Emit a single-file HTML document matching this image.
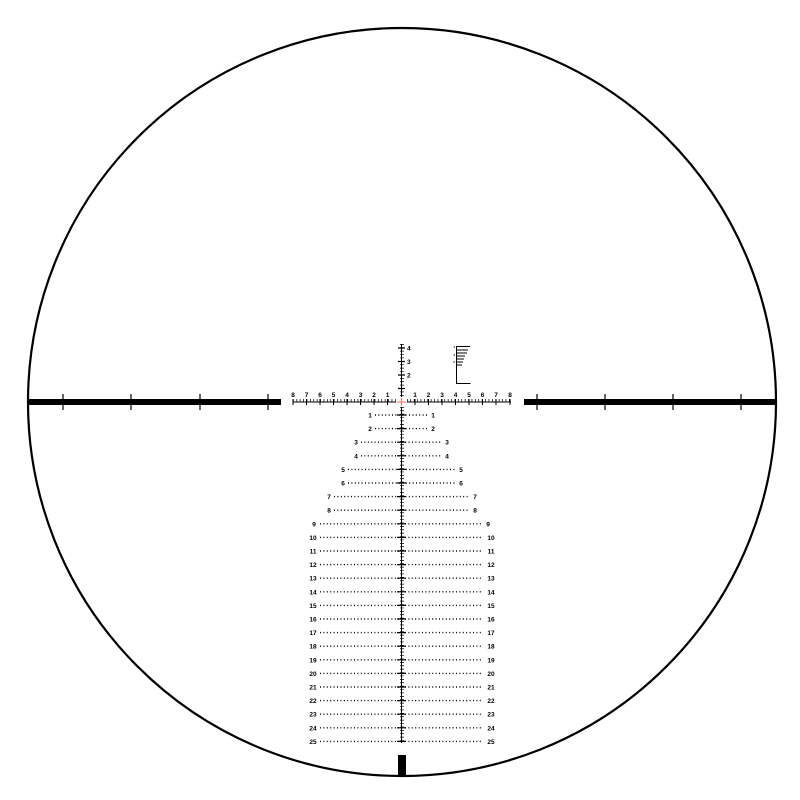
<!DOCTYPE html>
<html><head><style>html,body{margin:0;padding:0;background:#fff}svg{display:block}</style></head>
<body>
<svg width="800" height="800" viewBox="0 0 800 800" xmlns="http://www.w3.org/2000/svg" font-family="Liberation Sans, sans-serif" font-size="6.5" font-weight="bold">
<circle cx="402" cy="402" r="374" fill="none" stroke="#000" stroke-width="2.2"/>
<rect x="28" y="399" width="253" height="6" fill="#000"/>
<rect x="524" y="399" width="252" height="6" fill="#000"/>
<g stroke="#000" stroke-width="1.2">
<line x1="63" y1="394" x2="63" y2="410"/><line x1="131" y1="394" x2="131" y2="410"/><line x1="200" y1="394" x2="200" y2="410"/><line x1="268" y1="394" x2="268" y2="410"/>
<line x1="537" y1="394" x2="537" y2="410"/><line x1="605" y1="394" x2="605" y2="410"/><line x1="673" y1="394" x2="673" y2="410"/><line x1="741" y1="394" x2="741" y2="410"/>
</g>
<rect x="398" y="755" width="8" height="22" fill="#000"/>
<g stroke="#000">
<line x1="293" y1="402" x2="396" y2="402" stroke-width="1"/>
<line x1="407" y1="402" x2="511" y2="402" stroke-width="1"/>
<line x1="293" y1="400.5" x2="396" y2="400.5" stroke-width="3" stroke-dasharray="0.7 2.7"/>
<line x1="407" y1="400.5" x2="511" y2="400.5" stroke-width="3" stroke-dasharray="0.7 2.7"/>
</g>
<g stroke="#000" stroke-width="1" fill="none">
<path d="M293 399v6M306.5 399v6M320 399v6M333.5 399v6M347 399v6M360.5 399v6M374 399v6M387.5 399v6M415 399v6M428.5 399v6M442 399v6M455.5 399v6M469 399v6M482.5 399v6M496 399v6M510 399v6"/>
</g>
<g text-anchor="middle">
<text x="293" y="397">8</text><text x="306.5" y="397">7</text><text x="320" y="397">6</text><text x="333.5" y="397">5</text><text x="347" y="397">4</text><text x="360.5" y="397">3</text><text x="374" y="397">2</text><text x="387.5" y="397">1</text>
<text x="415" y="397">1</text><text x="428.5" y="397">2</text><text x="442" y="397">3</text><text x="455.5" y="397">4</text><text x="469" y="397">5</text><text x="482.5" y="397">6</text><text x="496" y="397">7</text><text x="510" y="397">8</text>
</g>
<g stroke="#f08080" stroke-width="1.2"><line x1="397" y1="402" x2="406" y2="402"/><line x1="401.5" y1="398" x2="401.5" y2="406"/></g>
<g stroke="#000" fill="none">
<line x1="401.5" y1="344" x2="401.5" y2="397" stroke-width="1"/>
<line x1="401.5" y1="407" x2="401.5" y2="743" stroke-width="1"/>
<line x1="402" y1="344" x2="402" y2="397" stroke-width="4" stroke-dasharray="0.7 2.7"/>
<line x1="402" y1="407" x2="402" y2="743" stroke-width="4" stroke-dasharray="0.7 2.7"/>
<path d="M398 348h7M398 361.5h7M398 375h7M398 388.5h7" stroke-width="1.2"/>
</g>
<text x="407" y="350.5">4</text><text x="407" y="364">3</text><text x="407" y="377.5">2</text>
<g stroke="#000" stroke-width="1" fill="none">
<path d="M456.5 346v37.5h14M456 346.5h14M456 350h12M456 353h11M456 356h9M456 359h8M456 362h7M456 365h6"/>
</g>
<g font-size="3" text-anchor="end"><text x="455" y="348">4</text><text x="455" y="356">3</text><text x="455" y="363">2</text></g>
<g stroke="#000" stroke-width="1.4" stroke-dasharray="1 2.4" fill="none">
<path d="M375 415h53M375 428.6h53M361 442.2h81M361 455.8h81M348 469.4h108M348 483h108M334 496.6h136M334 510.2h136M320 523.8h163M320 537.4h163M320 551h163M320 564.6h163M320 578.2h163M320 591.8h163M320 605.4h163M320 619h163M320 632.6h163M320 646.2h163M320 659.8h163M320 673.4h163M320 687h163M320 700.6h163M320 714.2h163M320 727.8h163M320 741.4h163"/>
</g>
<g stroke="#000" stroke-width="1.2" fill="none">
<path d="M397 415h9M397 428.6h9M397 442.2h9M397 455.8h9M397 469.4h9M397 483h9M397 496.6h9M397 510.2h9M397 523.8h9M397 537.4h9M397 551h9M397 564.6h9M397 578.2h9M397 591.8h9M397 605.4h9M397 619h9M397 632.6h9M397 646.2h9M397 659.8h9M397 673.4h9M397 687h9M397 700.6h9M397 714.2h9M397 727.8h9M397 741.4h9"/>
</g>
<g text-anchor="middle">
<text x="370" y="417.5">1</text><text x="433" y="417.5">1</text>
<text x="370" y="431">2</text><text x="433" y="431">2</text>
<text x="356" y="444.7">3</text><text x="447" y="444.7">3</text>
<text x="356" y="458.3">4</text><text x="447" y="458.3">4</text>
<text x="343" y="471.9">5</text><text x="461" y="471.9">5</text>
<text x="343" y="485.5">6</text><text x="461" y="485.5">6</text>
<text x="329" y="499.1">7</text><text x="475" y="499.1">7</text>
<text x="329" y="512.7">8</text><text x="475" y="512.7">8</text>
<text x="314" y="526.3">9</text><text x="488" y="526.3">9</text>
<text x="313" y="539.9">10</text><text x="491" y="539.9">10</text>
<text x="313" y="553.5">11</text><text x="491" y="553.5">11</text>
<text x="313" y="567.1">12</text><text x="491" y="567.1">12</text>
<text x="313" y="580.7">13</text><text x="491" y="580.7">13</text>
<text x="313" y="594.3">14</text><text x="491" y="594.3">14</text>
<text x="313" y="607.9">15</text><text x="491" y="607.9">15</text>
<text x="313" y="621.5">16</text><text x="491" y="621.5">16</text>
<text x="313" y="635.1">17</text><text x="491" y="635.1">17</text>
<text x="313" y="648.7">18</text><text x="491" y="648.7">18</text>
<text x="313" y="662.3">19</text><text x="491" y="662.3">19</text>
<text x="313" y="675.9">20</text><text x="491" y="675.9">20</text>
<text x="313" y="689.5">21</text><text x="491" y="689.5">21</text>
<text x="313" y="703.1">22</text><text x="491" y="703.1">22</text>
<text x="313" y="716.7">23</text><text x="491" y="716.7">23</text>
<text x="313" y="730.3">24</text><text x="491" y="730.3">24</text>
<text x="313" y="743.9">25</text><text x="491" y="743.9">25</text>
</g>
</svg>
</body></html>
